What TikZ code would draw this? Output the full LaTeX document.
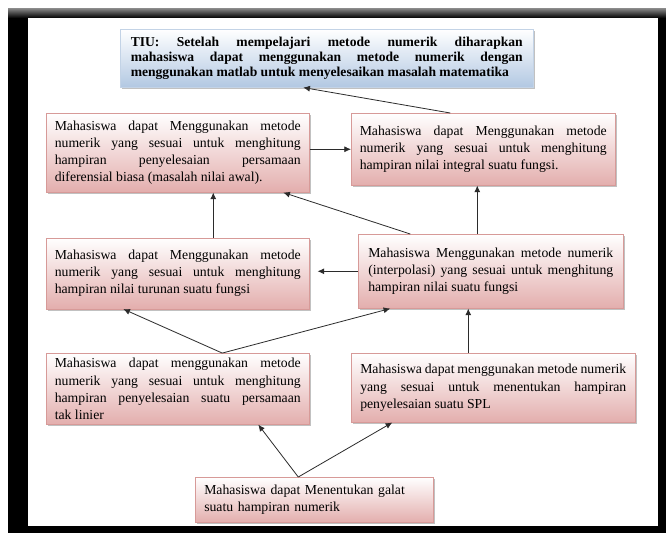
\documentclass[tikz,border=0pt]{standalone}
\usepackage{fontspec}
\setmainfont{Liberation Serif}
\usetikzlibrary{positioning, arrows.meta, shadows, calc}
\hyphenpenalty=10000
\exhyphenpenalty=10000
\definecolor{RoseLine}{HTML}{D79A98}
\definecolor{RoseFill}{HTML}{E3AEAD}
\definecolor{SkyLine}{HTML}{C3D3E6}
\definecolor{SkyFill}{HTML}{B2C8E2}
\definecolor{Ink}{HTML}{2B2B2B}

\begin{document}
\begin{tikzpicture}[x=0.75pt, y=-0.75pt,
    goal/.style={draw=SkyLine, top color=white, bottom color=SkyFill, drop shadow={shadow xshift=1.6pt, shadow yshift=-1.6pt, fill=black!40, opacity=0.6}, anchor=north west, minimum width=309.75pt, minimum height=43.5pt, text width=294pt, inner xsep=2pt, align=justify, font=\bfseries\fontsize{10.2}{11.6}\selectfont},
    box/.style={draw=RoseLine, top color=white, bottom color=RoseFill, drop shadow={shadow xshift=1.6pt, shadow yshift=-1.6pt, fill=black!40, opacity=0.6}, minimum width=197.25pt, text width=184.5pt, inner xsep=2pt, align=justify, font=\fontsize{10.3}{12.8}\selectfont},
    arr/.style={-{Latex[length=5pt, width=4.5pt]}, draw=Ink, line width=0.6pt}
]
\useasboundingbox (0,0) rectangle (666,533);

% frame
\fill[black] (8,8) rectangle (666,533);
\shade[top color=black!45, bottom color=black] (8,8) rectangle (666,18);
\fill[white] (28,18) rectangle (658,526);

% TIU
\node[goal] (tiu) at (120,29) {TIU: Setelah mempelajari metode numerik diharapkan\linebreak mahasiswa dapat menggunakan metode numerik dengan\linebreak menggunakan matlab untuk menyelesaikan masalah matematika};

% left column
\node[box, anchor=north west, minimum height=59.25pt] (dif) at (46,113) {Mahasiswa dapat Menggunakan metode\linebreak numerik yang sesuai untuk menghitung\linebreak hampiran penyelesaian persamaan\linebreak diferensial biasa (masalah nilai awal).};
\node[box, below=33.75pt of dif, minimum height=53.25pt] (turunan) {Mahasiswa dapat Menggunakan metode\linebreak numerik yang sesuai untuk menghitung\linebreak hampiran nilai turunan suatu fungsi};
\node[box, below=33pt of turunan, minimum height=53.25pt] (taklinier) {Mahasiswa dapat menggunakan metode\linebreak numerik yang sesuai untuk menghitung\linebreak hampiran penyelesaian suatu persamaan\linebreak tak linier};

% right column
\node[box, anchor=north west, minimum width=198pt, text width=185.25pt, minimum height=54pt] (integral) at (351,113) {Mahasiswa dapat Menggunakan metode\linebreak numerik yang sesuai untuk menghitung\linebreak hampiran nilai integral suatu fungsi.};
\node[box, anchor=north west, minimum width=198.75pt, text width=183.75pt, minimum height=55.5pt] (interp) at (358,234) {Mahasiswa Menggunakan metode numerik\linebreak (interpolasi) yang sesuai untuk menghitung\linebreak hampiran nilai suatu fungsi};
\node[box, anchor=north west, minimum width=213pt, text width=199.5pt, minimum height=51.75pt] (spl) at (351,353) {Mahasiswa dapat menggunakan metode numerik\linebreak yang sesuai untuk menentukan hampiran\linebreak penyelesaian suatu SPL};

% galat
\node[box, anchor=north west, minimum width=178.5pt, text width=165pt, minimum height=33.75pt, align=left] (galat) at (195,477) {Mahasiswa dapat Menentukan galat\\suatu hampiran numerik};

% Arrows
\draw[arr] ($(integral.north)+(-33,0)$) -- ($(tiu.south)+(-23.5,0)$);
\draw[arr] (integral.west -| dif.east) -- (integral.west);
\draw[arr] ($(turunan.north)+(35.5,0)$) -- ($(dif.south)+(35.5,0)$);
\draw[arr] ($(interp.north)+(-80.5,0)$) -- ($(dif.south)+(105.5,0)$);
\draw[arr] ($(interp.north)+(-13.5,0)$) -- ($(integral.south)+(-6,0)$);
\draw[arr, shorten >=6pt] (interp.west) -- (interp.west -| turunan.east);
\coordinate (tl top) at ($(taklinier.north)+(44.5,0)$);
\draw[arr] (tl top) -- ($(turunan.south)+(-54.5,0)$);
\draw[arr] (tl top) -- ($(interp.south)+(-100.5,0)$);
\draw[arr] ($(spl.north)+(-25,0)$) -- ($(interp.south)+(-22.5,0)$);
\coordinate (gl top) at ($(galat.north)+(-16,0)$);
\draw[arr] (gl top) -- ($(taklinier.south)+(80.5,0)$);
\draw[arr] (gl top) -- ($(spl.south)+(-101,0)$);

\end{tikzpicture}
\end{document}
